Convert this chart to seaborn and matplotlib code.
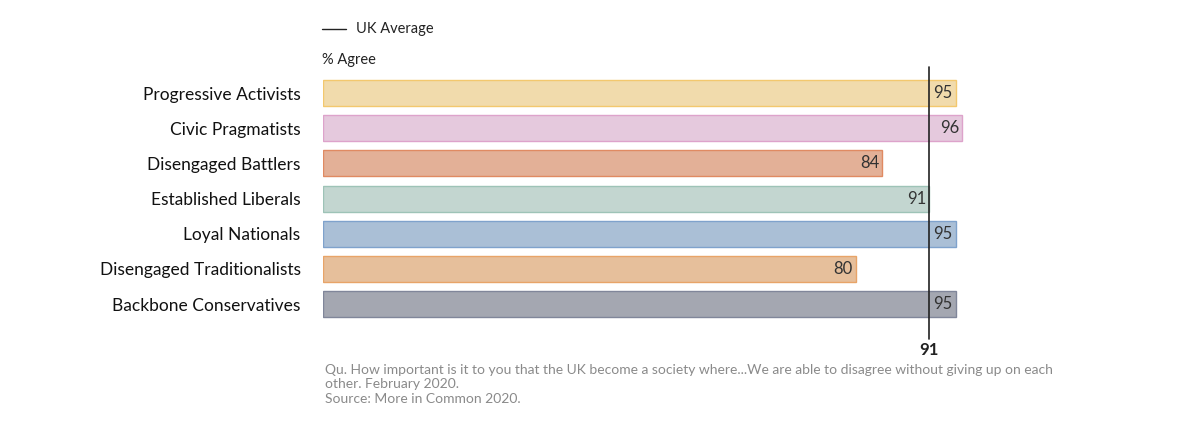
import matplotlib
matplotlib.use("Agg")
import matplotlib.pyplot as plt
import seaborn as sns
import pandas as pd

segments = ["Progressive Activists", "Civic Pragmatists", "Disengaged Battlers",
            "Established Liberals", "Loyal Nationals", "Disengaged Traditionalists",
            "Backbone Conservatives"]
agree = [95, 96, 84, 91, 95, 80, 95]
uk_avg = 91
fills = ["#FDDFA0", "#EAC4DF", "#F0AC8A", "#C0D9D1", "#A3BEDD", "#F2BF8F", "#A2A6B3"]
edges = ["#F3C86E", "#DDA3CB", "#E08A62", "#9EC3B7", "#7FA2CC", "#E8A468", "#80869A"]

sns.set_style("white")
plt.rcParams['font.family'] = ['Lato', 'DejaVu Sans']

df = pd.DataFrame({"segment": segments, "agree": agree})
fig = plt.figure(figsize=(12, 4.34), dpi=100)
ax = fig.add_axes([0.269, 0.259, 0.555, 0.567])
sns.barplot(data=df, x="agree", y="segment", hue="segment", palette=fills,
            legend=False, width=0.74, ax=ax)
for p, ec in zip(ax.patches, edges):
    p.set_edgecolor(ec)
    p.set_linewidth(1)
ax.set_xlim(0, 100)
ax.set_ylim(6.5, -0.5)
for i, v in enumerate(agree):
    ax.text(v - 0.4, i, str(v), ha="right", va="center", fontsize=12, color="#333333")
ax.plot([uk_avg, uk_avg], [7.0, -0.75], color="#222222", lw=1.2, clip_on=False)
ax.text(uk_avg, 7.3, str(uk_avg), ha="center", va="center", fontsize=12,
        fontweight="bold", color="#222222")
sns.despine(ax=ax, left=True, bottom=True)
ax.set_xticks([])
ax.set_xlabel("")
ax.set_ylabel("")
ax.tick_params(axis="y", length=0, pad=16, labelsize=12.5, labelcolor="#111111")

fig.add_artist(plt.Line2D([322/1200, 346/1200], [1-29/434, 1-29/434], color="#222222", lw=1))
fig.text(356/1200, 1-29/434, "UK Average", va="center", fontsize=10.5, color="#222222")
fig.text(322/1200, 1-60/434, "% Agree", va="center", fontsize=10.5, color="#222222")
fig.text(325/1200, 1-364/434,
         "Qu. How important is it to you that the UK become a society where...We are able to disagree without giving up on each\n"
         "other. February 2020.\nSource: More in Common 2020.",
         va="top", fontsize=10, color="#8a8a8a", linespacing=1.25)

fig.savefig("out.png", dpi=100)
